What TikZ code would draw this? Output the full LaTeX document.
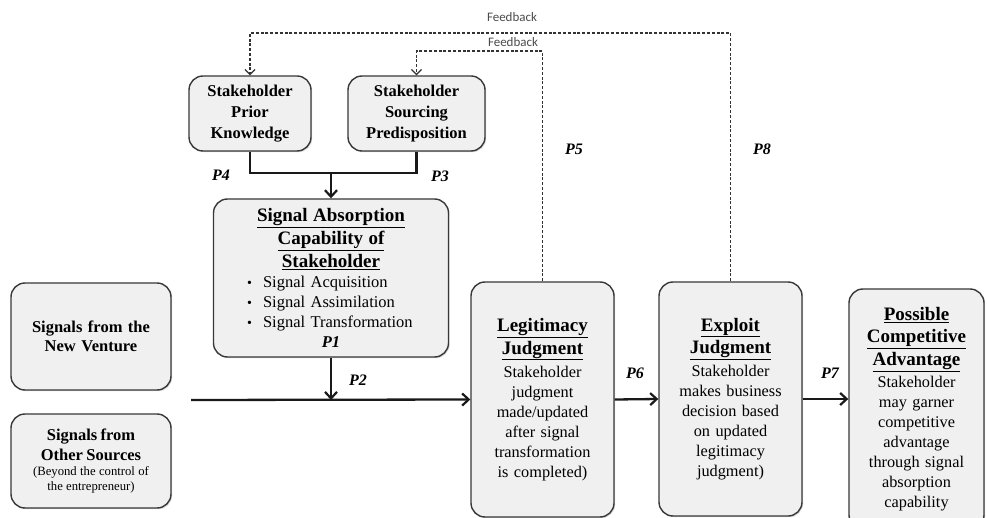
\documentclass[tikz,border=0pt]{standalone}
\usepackage{fontspec}
\setmainfont{Liberation Serif}
\newfontfamily\fbfont{Carlito}
\usetikzlibrary{arrows.meta,shadows}
\newcommand{\bl}[1]{\makebox[168pt][l]{\makebox[16pt][l]{\fontsize{14}{14}\selectfont\textbullet}#1}}
\begin{document}
\begin{tikzpicture}[x=1pt,y=-1pt,
 box/.style={draw=black!78, line width=1.4pt, fill=black!6, rounded corners=14pt, align=center, inner sep=2pt,
   drop shadow={opacity=0.3, shadow xshift=1.2pt, shadow yshift=-1.2pt}},
 conn/.style={line width=2.3pt, draw=black!90},
 arr/.style={conn, -{Straight Barb[length=6.5pt,width=12pt,line width=2.2pt]}},
 fbk/.style={draw=black!80, line width=1.5pt, dash pattern=on 3pt off 1.8pt, -{Straight Barb[length=5pt,width=10pt,line width=1.2pt]}},
 plab/.style={font=\fontsize{16}{18}\selectfont\bfseries\itshape},
 fblab/.style={font=\fbfont\fontsize{13}{14}\selectfont, text=black!70},
 tbig/.style={font=\fontsize{16.5}{21}\selectfont\bfseries},
 body/.style={font=\fontsize{16.3}{20}\selectfont},
]
\path[use as bounding box, fill=white] (0,0) rectangle (987,518);

% boxes
\node[box, tbig, minimum width=122pt, minimum height=75pt, text width=115pt] (pk) at (250,113.5) {Stakeholder\\Prior\\Knowledge};
\node[box, tbig, minimum width=137pt, minimum height=75pt, text width=130pt] (sp) at (416.5,113.5) {Stakeholder\\Sourcing\\Predisposition};
\node[box, body, minimum width=235pt, minimum height=158pt, text width=228pt] (abs) at (331,278)
 {{\fontsize{19}{23}\selectfont\bfseries \underline{Signal Absorption}\\\underline{Capability of}\\\underline{Stakeholder}\par}
  \fontsize{16.5}{20}\selectfont
  \bl{Signal Acquisition}\\\bl{Signal Assimilation}\\\bl{Signal Transformation}\\{\bfseries\itshape P1}};
\node[box, font=\fontsize{16.5}{19.5}\selectfont\bfseries, minimum width=160pt, minimum height=107pt, text width=152pt] (nv) at (91,336.5) {Signals from the\\New Venture};
\node[box, minimum width=160pt, minimum height=94pt, text width=152pt] (os) at (91,461)
 {{\fontsize{16.5}{20}\selectfont\bfseries Signals from\\Other Sources\par}
  {\fontsize{12.7}{15}\selectfont (Beyond the control of\\the entrepreneur)\par}};
\node[box, body, minimum width=143pt, minimum height=235pt, text width=136pt] (leg) at (542.5,399.5)
 {{\fontsize{19}{22.5}\selectfont\bfseries \underline{Legitimacy}\\\underline{Judgment}\par}\vspace{3pt}
  Stakeholder\\judgment\\made/updated\\after signal\\transformation\\is completed)};
\node[box, body, minimum width=143pt, minimum height=234pt, text width=136pt] (exp) at (730.5,399)
 {{\fontsize{19}{22.5}\selectfont\bfseries \underline{Exploit}\\\underline{Judgment}\par}\vspace{3pt}
  Stakeholder\\makes business\\decision based\\on updated\\legitimacy\\judgment)};
\node[box, body, minimum width=135pt, minimum height=240pt, text width=130pt] (pca) at (916.5,409)
 {{\fontsize{19}{22.5}\selectfont\bfseries \underline{Possible}\\\underline{Competitive}\\\underline{Advantage}\par}\vspace{2pt}
  Stakeholder\\may garner\\competitive\\advantage\\through signal\\absorption\\capability};

% connectors
\coordinate (j) at (331,173);
\draw[conn] (pk.south) |- (j) -| (sp.south);
\draw[arr] (j) -- (abs.north);
\coordinate (mj) at (331,400);
\coordinate (ms) at (191,400);
\draw[arr] (abs.south) -- (mj);
\draw[arr] (ms) -- (leg.west);
\draw[arr] (leg.east) -- (exp.west);
\draw[arr] (exp.east) -- (exp.east -| pca.west);

% feedback
\coordinate (f1) at (490,33);
\coordinate (f2) at (480,51);
\draw[fbk] (exp.north) |- (f1) -| (pk.north);
\draw[fbk] (leg.north) |- (f2) -| (sp.north);
\node[fblab] (fb1) at (512,17) {Feedback};
\node[fblab] (fb2) at (513,42) {Feedback};

% P labels
\node[plab] (p4) at (221,175) {P4};
\node[plab] (p3) at (440,176) {P3};
\node[plab] (p5) at (574,149) {P5};
\node[plab] (p8) at (762,149) {P8};
\node[plab] (p2) at (358,380) {P2};
\node[plab] (p6) at (635,373) {P6};
\node[plab] (p7) at (830,373) {P7};
\end{tikzpicture}
\end{document}
